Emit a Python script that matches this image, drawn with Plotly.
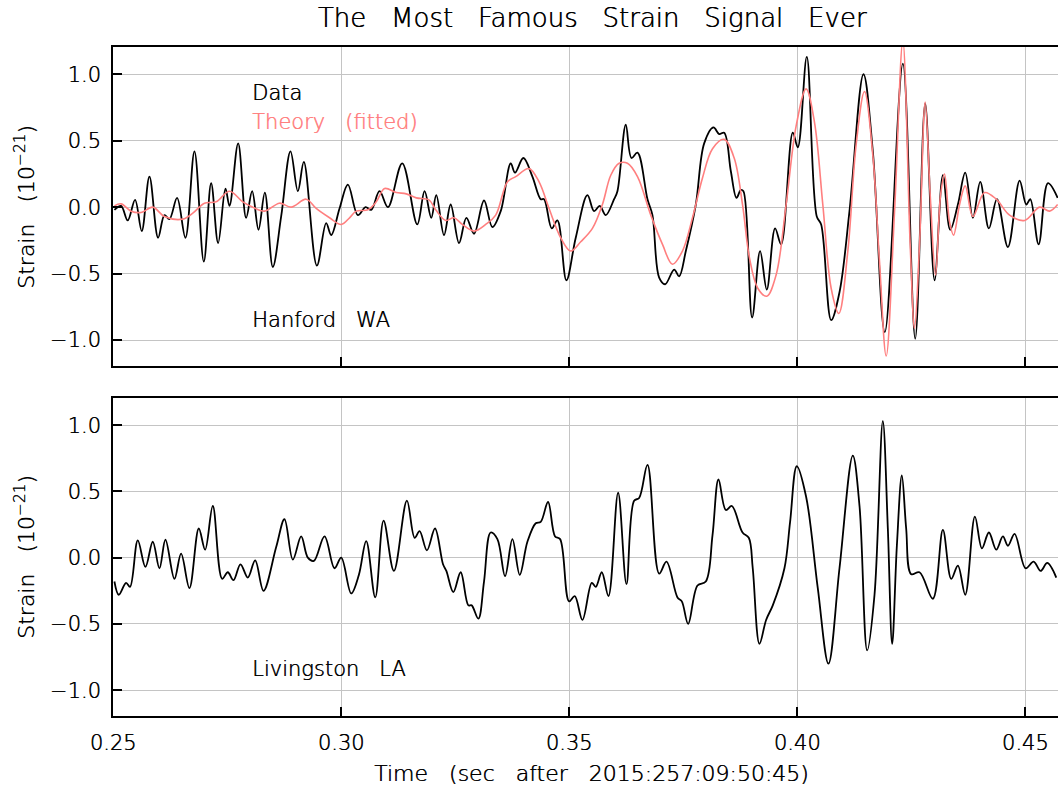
import plotly.graph_objects as go

# ---------------- data ----------------
hanford_t = [0.25031, 0.25177, 0.25323, 0.25484, 0.25630, 0.25799, 0.25989, 0.26128, 0.26237, 0.26405,
             0.26588, 0.26786, 0.26991, 0.27152, 0.27305, 0.27466, 0.27554, 0.27744, 0.27919, 0.28051,
             0.28190, 0.28329, 0.28504, 0.28687, 0.28892, 0.29053, 0.29184, 0.29470, 0.29674, 0.29784,
             0.29967, 0.30150, 0.30369, 0.30537, 0.30661, 0.30844, 0.31028, 0.31342, 0.31671, 0.31832,
             0.31978, 0.32088, 0.32258, 0.32404, 0.32587, 0.32748, 0.32916, 0.33135, 0.33318, 0.33501,
             0.33720, 0.33815, 0.33998, 0.34196, 0.34378, 0.34452, 0.34620, 0.34744, 0.34941, 0.35146,
             0.35402, 0.35548, 0.35673, 0.35804, 0.35987, 0.36060, 0.36243, 0.36368, 0.36499, 0.36719,
             0.36828, 0.36975, 0.37106, 0.37304, 0.37413, 0.37560, 0.37779, 0.37962, 0.38167, 0.38291,
             0.38401, 0.38547, 0.38671, 0.38766, 0.38823, 0.39013, 0.39188, 0.39335, 0.39517, 0.39649,
             0.39905, 0.40015, 0.40212, 0.40431, 0.40527, 0.40746, 0.40929, 0.41148, 0.41455, 0.41660,
             0.41923, 0.42318, 0.42589, 0.42808, 0.43013, 0.43196, 0.43357, 0.43525, 0.43686, 0.43854,
             0.44015, 0.44205, 0.44381, 0.44622, 0.44878, 0.45024, 0.45112, 0.45295, 0.45500, 0.45712]
hanford_strain = [-0.02, 0.01, -0.10, 0.055, -0.18, 0.23, -0.23, -0.06, -0.09, 0.07,
                  -0.23, 0.42, -0.41, 0.18, -0.27, 0.14, 0.01, 0.48, -0.08, 0.12,
                  -0.17, 0.11, -0.45, -0.07, 0.42, 0.12, 0.34, -0.44, -0.12, -0.21,
                  -0.01, 0.17, -0.06, 0.00, -0.02, 0.12, 0.00, 0.33, -0.13, 0.12,
                  -0.08, 0.09, -0.21, 0.02, -0.27, -0.08, -0.20, 0.05, -0.15, -0.03,
                  0.33, 0.26, 0.37, 0.23, 0.06, 0.06, -0.16, -0.10, -0.55, -0.23,
                  0.09, -0.03, 0.01, -0.06, 0.06, 0.12, 0.62, 0.37, 0.41, 0.06,
                  -0.06, -0.53, -0.58, -0.47, -0.52, -0.33, 0.02, 0.48, 0.60, 0.55,
                  0.56, 0.27, 0.07, 0.13, 0.12, -0.83, -0.33, -0.62, -0.16, -0.28,
                  0.56, 0.45, 1.13, -0.07, -0.13, -0.85, -0.64, -0.03, 1.00, 0.42,
                  -0.94, 1.08, -0.99, 0.78, -0.55, 0.24, -0.17, 0.02, 0.26, -0.08,
                  0.19, -0.16, 0.06, -0.30, 0.20, 0.02, 0.06, -0.28, 0.18, 0.07]

theory_t = [0.25031, 0.25177, 0.25396, 0.25616, 0.25872, 0.26128, 0.26530, 0.26750, 0.27005, 0.27261,
            0.27554, 0.27846, 0.28066, 0.28322, 0.28650, 0.28907, 0.29236, 0.29455, 0.29748, 0.30004,
            0.30187, 0.30333, 0.30589, 0.30772, 0.30955, 0.31210, 0.31430, 0.31649, 0.31928, 0.32075,
            0.32294, 0.32477, 0.32660, 0.32916, 0.33172, 0.33391, 0.33647, 0.33830, 0.34122, 0.34342,
            0.34561, 0.34817, 0.35037, 0.35256, 0.35512, 0.35731, 0.35914, 0.36097, 0.36280, 0.36500,
            0.36792, 0.37048, 0.37267, 0.37486, 0.37706, 0.37925, 0.38145, 0.38401, 0.38620, 0.38803,
            0.38954, 0.39137, 0.39335, 0.39539, 0.39759, 0.39978, 0.40197, 0.40380, 0.40563, 0.40746,
            0.40914, 0.41112, 0.41294, 0.41477, 0.41660, 0.41806, 0.41953, 0.42136, 0.42318, 0.42479,
            0.42574, 0.42684, 0.42808, 0.42918, 0.43035, 0.43145, 0.43232, 0.43342, 0.43430, 0.43562,
            0.43686, 0.43854, 0.44110, 0.44366, 0.44658, 0.44988, 0.45317, 0.45536, 0.45712]
theory_strain = [0.01, 0.025, -0.03, -0.04, 0.00, -0.07, -0.09, -0.045, 0.03, 0.04,
                 0.12, 0.04, 0.00, -0.03, 0.03, 0.00, 0.06, -0.01, -0.08, -0.13,
                 -0.08, -0.03, -0.02, 0.04, 0.14, 0.11, 0.10, 0.07, 0.055, -0.02,
                 -0.10, -0.08, -0.13, -0.18, -0.13, -0.06, 0.19, 0.23, 0.29, 0.19,
                 -0.01, -0.23, -0.33, -0.26, -0.16, 0.02, 0.24, 0.33, 0.33, 0.23,
                 -0.06, -0.28, -0.43, -0.33, -0.08, 0.22, 0.44, 0.51, 0.37, 0.02,
                 -0.38, -0.61, -0.67, -0.51, 0.02, 0.61, 0.89, 0.64, 0.02, -0.61,
                 -0.80, -0.33, 0.47, 0.87, 0.39, -0.41, -1.12, -0.03, 1.25, -0.28,
                 -0.91, -0.28, 0.79, 0.09, -0.51, 0.09, 0.25, -0.11, -0.21, 0.02,
                 0.16, -0.07, 0.11, 0.06, -0.06, -0.10, 0.00, -0.03, 0.02]

livingston_t = [0.25031, 0.25126, 0.25287, 0.25374, 0.25543, 0.25711, 0.25872, 0.26018, 0.26150, 0.26347,
                0.26493, 0.26676, 0.26881, 0.27020, 0.27188, 0.27393, 0.27517, 0.27642, 0.27795, 0.27956,
                0.28117, 0.28300, 0.28578, 0.28760, 0.28943, 0.29126, 0.29272, 0.29404, 0.29638, 0.29857,
                0.30004, 0.30223, 0.30391, 0.30552, 0.30750, 0.30933, 0.31159, 0.31444, 0.31613, 0.31722,
                0.31883, 0.32060, 0.32236, 0.32309, 0.32462, 0.32623, 0.32791, 0.32864, 0.33011, 0.33135,
                0.33281, 0.33428, 0.33596, 0.33757, 0.33918, 0.34086, 0.34269, 0.34378, 0.34539, 0.34693,
                0.34803, 0.35000, 0.35124, 0.35293, 0.35497, 0.35585, 0.35717, 0.35863, 0.36075, 0.36258,
                0.36426, 0.36536, 0.36719, 0.36975, 0.37135, 0.37377, 0.37472, 0.37611, 0.37816, 0.37998,
                0.38145, 0.38276, 0.38437, 0.38569, 0.38803, 0.38940, 0.39027, 0.39174, 0.39320, 0.39466,
                0.39722, 0.39846, 0.39993, 0.40197, 0.40453, 0.40687, 0.40929, 0.41221, 0.41368, 0.41536,
                0.41697, 0.41879, 0.41989, 0.42084, 0.42187, 0.42296, 0.42391, 0.42501, 0.42684, 0.42976,
                0.43196, 0.43379, 0.43525, 0.43686, 0.43898, 0.44052, 0.44205, 0.44366, 0.44512, 0.44622,
                0.44768, 0.45010, 0.45185, 0.45339, 0.45485, 0.45682]
livingston_strain = [-0.18, -0.28, -0.19, -0.22, 0.13, -0.07, 0.12, -0.08, 0.135, -0.16,
                     0.03, -0.23, 0.22, 0.06, 0.39, -0.16, -0.11, -0.17, -0.05, -0.15,
                     -0.02, -0.25, 0.08, 0.29, -0.015, 0.16, 0.00, -0.025, 0.16, -0.08,
                     0.00, -0.27, -0.13, 0.125, -0.30, 0.28, -0.10, 0.43, 0.15, 0.20,
                     0.055, 0.22, -0.05, -0.10, -0.26, -0.11, -0.36, -0.36, -0.46, -0.18,
                     0.19, 0.14, -0.14, 0.14, -0.13, 0.12, 0.26, 0.27, 0.42, 0.16,
                     0.14, -0.33, -0.29, -0.47, -0.19, -0.22, -0.11, -0.29, 0.49, -0.20,
                     0.43, 0.45, 0.70, -0.12, -0.03, -0.30, -0.33, -0.50, -0.21, -0.18,
                     0.17, 0.59, 0.36, 0.39, 0.19, 0.15, -0.08, -0.65, -0.47, -0.36,
                     -0.08, 0.27, 0.69, 0.46, -0.23, -0.80, -0.08, 0.77, 0.39, -0.70,
                     -0.28, 1.03, 0.22, -0.65, 0.09, 0.62, 0.22, -0.125, -0.11, -0.31,
                     0.21, -0.16, -0.06, -0.28, 0.31, 0.07, 0.19, 0.06, 0.16, 0.09,
                     0.18, -0.08, -0.03, -0.10, -0.04, -0.15]

x_ticks = [0.25, 0.30, 0.35, 0.40, 0.45]
x_ticklabels = ["0.25", "0.30", "0.35", "0.40", "0.45"]
y_ticks = [-1.0, -0.5, 0.0, 0.5, 1.0]
y_ticklabels = ["\u22121.0", "\u22120.5", "0.0", "0.5", "1.0"]

GAP = "\u00a0\u00a0 "
title_text = GAP.join(["The", "Most", "Famous", "Strain", "Signal", "Ever"])
xlabel_text = GAP.join(["Time", "(sec", "after", "2015:257:09:50:45)"])
ylabel_text = "Strain" + GAP + "(10<sup>\u221221</sup>)"

# ---------------- styling ----------------
FONT = "DejaVu Sans, Liberation Sans, sans-serif"
WEIGHT = 200
SHADOW = "0.5px 0 0 #000000"
BLACK = "#000000"
RED = "#FF7F7F"
GRID = "#c4c4c4"


def fnt(size, color=BLACK):
    shadow = SHADOW if color == BLACK else "0.5px 0 0 " + color
    return dict(family=FONT, size=size, color=color, weight=WEIGHT, shadow=shadow)


fig = go.Figure()
fig.add_trace(go.Scatter(x=hanford_t, y=hanford_strain, mode="lines", name="Data",
                         line=dict(color=BLACK, width=1.8, shape="spline", smoothing=1.0),
                         xaxis="x", yaxis="y", showlegend=False))
fig.add_trace(go.Scatter(x=theory_t, y=theory_strain, mode="lines", name="Theory (fitted)",
                         line=dict(color=RED, width=1.6, shape="spline", smoothing=1.0),
                         xaxis="x", yaxis="y", showlegend=False))
fig.add_trace(go.Scatter(x=livingston_t, y=livingston_strain, mode="lines", name="Livingston",
                         line=dict(color=BLACK, width=1.8, shape="spline", smoothing=1.0),
                         xaxis="x2", yaxis="y2", showlegend=False))

xcommon = dict(range=[0.25, 0.4572], tickvals=x_ticks, ticktext=x_ticklabels,
               ticks="inside", ticklen=9, tickwidth=1.5, tickcolor=BLACK,
               showline=True, linecolor=BLACK, linewidth=2, mirror=True,
               showgrid=True, gridcolor=GRID, gridwidth=1, zeroline=False,
               tickfont=fnt(21), ticklabelstandoff=7)
ycommon = dict(range=[-1.195, 1.205], tickvals=y_ticks, ticktext=y_ticklabels,
               ticks="inside", ticklen=9, tickwidth=1.5, tickcolor=BLACK,
               showline=True, linecolor=BLACK, linewidth=2, mirror=False,
               showgrid=True, gridcolor=GRID, gridwidth=1, zeroline=False,
               tickfont=fnt(21), ticklabelstandoff=6)

H, MT, MB, ML = 787, 47, 71, 113
plot_h = H - MT - MB
top_dom = [(716 - 366) / plot_h, 1.0]
bot_dom = [0.0, (716 - 398) / plot_h]

fig.update_layout(
    width=1058, height=H,
    margin=dict(l=ML, r=0, t=MT, b=MB, pad=0),
    paper_bgcolor="white", plot_bgcolor="white",
    font=fnt(21),
    title=dict(text=title_text, x=(592 - ML) / (1058 - ML), xref="paper", y=1 - 18 / H,
               yref="container", xanchor="center", yanchor="middle", font=fnt(26)),
    xaxis=dict(domain=[0, 1], anchor="y", showticklabels=False, **xcommon),
    yaxis=dict(domain=top_dom, anchor="x", **ycommon),
    xaxis2=dict(domain=[0, 1], anchor="y2", showticklabels=True, **xcommon),
    yaxis2=dict(domain=bot_dom, anchor="x2", **ycommon),
)

LX = 0.2801
fig.add_annotation(text="Data", x=LX, y=0.857, xref="x", yref="y", xanchor="left",
                   yanchor="middle", showarrow=False, font=fnt(21))
fig.add_annotation(text="Theory" + GAP + "(fitted)", x=LX, y=0.64, xref="x", yref="y",
                   xanchor="left", yanchor="middle", showarrow=False, font=fnt(21, RED))
fig.add_annotation(text="Hanford" + GAP + "WA", x=LX, y=-0.85, xref="x", yref="y",
                   xanchor="left", yanchor="middle", showarrow=False, font=fnt(21))
fig.add_annotation(text="Livingston" + GAP + "LA", x=LX, y=-0.84, xref="x2", yref="y2",
                   xanchor="left", yanchor="middle", showarrow=False, font=fnt(21))

# axis titles
fig.add_annotation(text=xlabel_text, x=(591 - ML) / (1058 - ML), y=-(773 - 716) / plot_h,
                   xref="paper", yref="paper", xanchor="center", yanchor="middle",
                   showarrow=False, font=fnt(22))
for yc in (207, 557):
    fig.add_annotation(text=ylabel_text, x=(25 - ML) / (1058 - ML), y=(716 - yc) / plot_h,
                       xref="paper", yref="paper", xanchor="center", yanchor="middle",
                       textangle=-90, showarrow=False, font=fnt(22))

fig.write_html("out.html")
